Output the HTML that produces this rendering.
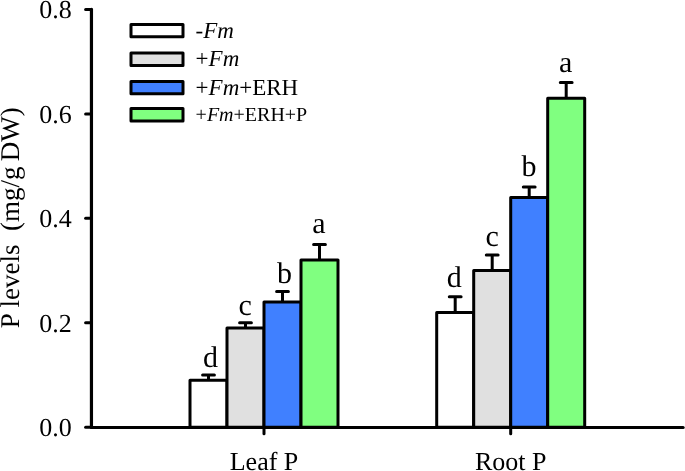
<!DOCTYPE html>
<html><head><meta charset="utf-8"><title>P levels</title>
<style>
html,body{margin:0;padding:0;background:#fff;}
body{width:685px;height:471px;overflow:hidden;}
svg{display:block;}
text{text-rendering:geometricPrecision;font-family:"Liberation Serif","Times New Roman",serif;fill:#000;}
.ax{font-size:26px;}
.lt{font-size:30px;}
.ay{font-size:27px;}
.lg{font-size:23px;}
.lg4{font-size:20px;}
.it{font-style:italic;}
</style></head><body>
<svg xmlns="http://www.w3.org/2000/svg" width="685" height="471" viewBox="0 0 685 471">
<rect width="685" height="471" fill="#fff"/>

<path d="M208.5 380.3V375.1M202.6 375.1H214.4" stroke="#000" stroke-width="3.0" stroke-linecap="round" fill="none"/>
<rect x="190.0" y="380.3" width="37" height="47.0" fill="#ffffff" stroke="#000" stroke-width="3.0" stroke-linejoin="round"/>
<text class="lt" x="210.5" y="367.3" text-anchor="middle">d</text>
<path d="M245.5 328.0V322.8M239.6 322.8H251.4" stroke="#000" stroke-width="3.0" stroke-linecap="round" fill="none"/>
<rect x="227.0" y="328.0" width="37" height="99.3" fill="#e0e0e0" stroke="#000" stroke-width="3.0" stroke-linejoin="round"/>
<text class="lt" x="245.2" y="315.2" text-anchor="middle">c</text>
<path d="M282.5 301.9V291.5M276.6 291.5H288.4" stroke="#000" stroke-width="3.0" stroke-linecap="round" fill="none"/>
<rect x="264.0" y="301.9" width="37" height="125.4" fill="#4080ff" stroke="#000" stroke-width="3.0" stroke-linejoin="round"/>
<text class="lt" x="284.5" y="282.8" text-anchor="middle">b</text>
<path d="M319.5 260.1V244.5M313.6 244.5H325.4" stroke="#000" stroke-width="3.0" stroke-linecap="round" fill="none"/>
<rect x="301.0" y="260.1" width="37" height="167.2" fill="#80ff80" stroke="#000" stroke-width="3.0" stroke-linejoin="round"/>
<text class="lt" x="319.0" y="233.0" text-anchor="middle">a</text>
<path d="M264.0 427.3V433.8" stroke="#000" stroke-width="3.0" stroke-linecap="round"/>
<text class="ax" x="264.0" y="470" text-anchor="middle">Leaf P</text>
<path d="M455.2 312.4V296.7M449.3 296.7H461.1" stroke="#000" stroke-width="3.0" stroke-linecap="round" fill="none"/>
<rect x="436.7" y="312.4" width="37" height="114.9" fill="#ffffff" stroke="#000" stroke-width="3.0" stroke-linejoin="round"/>
<text class="lt" x="454.2" y="286.8" text-anchor="middle">d</text>
<path d="M492.2 270.6V254.9M486.3 254.9H498.1" stroke="#000" stroke-width="3.0" stroke-linecap="round" fill="none"/>
<rect x="473.7" y="270.6" width="37" height="156.7" fill="#e0e0e0" stroke="#000" stroke-width="3.0" stroke-linejoin="round"/>
<text class="lt" x="492.2" y="246.1" text-anchor="middle">c</text>
<path d="M529.2 197.4V187.0M523.3 187.0H535.1" stroke="#000" stroke-width="3.0" stroke-linecap="round" fill="none"/>
<rect x="510.7" y="197.4" width="37" height="229.9" fill="#4080ff" stroke="#000" stroke-width="3.0" stroke-linejoin="round"/>
<text class="lt" x="528.9" y="176.2" text-anchor="middle">b</text>
<path d="M566.2 98.2V82.5M560.3 82.5H572.1" stroke="#000" stroke-width="3.0" stroke-linecap="round" fill="none"/>
<rect x="547.7" y="98.2" width="37" height="329.1" fill="#80ff80" stroke="#000" stroke-width="3.0" stroke-linejoin="round"/>
<text class="lt" x="565.7" y="71.5" text-anchor="middle">a</text>
<path d="M510.7 427.3V433.8" stroke="#000" stroke-width="3.0" stroke-linecap="round"/>
<text class="ax" x="510.7" y="470" text-anchor="middle">Root P</text>
<path d="M91.45 9.4V427.3" stroke="#000" stroke-width="3.2" stroke-linecap="round" fill="none"/>
<path d="M91.4 427.45H683.2" stroke="#000" stroke-width="3.0" stroke-linecap="round" fill="none"/>
<path d="M85.6 427.3H91.4" stroke="#000" stroke-width="3.0" stroke-linecap="round"/>
<text class="ax" x="71.8" y="436.1" text-anchor="end">0.0</text>
<path d="M85.6 322.8H91.4" stroke="#000" stroke-width="3.0" stroke-linecap="round"/>
<text class="ax" x="71.8" y="331.6" text-anchor="end">0.2</text>
<path d="M85.6 218.3H91.4" stroke="#000" stroke-width="3.0" stroke-linecap="round"/>
<text class="ax" x="71.8" y="227.1" text-anchor="end">0.4</text>
<path d="M85.6 113.9H91.4" stroke="#000" stroke-width="3.0" stroke-linecap="round"/>
<text class="ax" x="71.8" y="122.7" text-anchor="end">0.6</text>
<path d="M85.6 9.4H91.4" stroke="#000" stroke-width="3.0" stroke-linecap="round"/>
<text class="ax" x="71.8" y="18.2" text-anchor="end">0.8</text>
<text class="ay" transform="translate(19.2 328.3) rotate(-90)" letter-spacing="0" xml:space="preserve">P levels  (mg/g <tspan dx="-1.5">DW)</tspan></text>
<rect x="131" y="24.4" width="52" height="12.3" fill="#ffffff" stroke="#000" stroke-width="3.0" stroke-linejoin="round"/>
<text class="lg" x="195.6" y="38.3"><tspan class="it">-Fm</tspan></text>
<rect x="131" y="53.1" width="52" height="12.3" fill="#e0e0e0" stroke="#000" stroke-width="3.0" stroke-linejoin="round"/>
<text class="lg" x="195.6" y="66.3">+<tspan class="it">Fm</tspan></text>
<rect x="131" y="81.5" width="52" height="12.3" fill="#4080ff" stroke="#000" stroke-width="3.0" stroke-linejoin="round"/>
<text class="lg" x="195.6" y="95.0">+<tspan class="it">Fm</tspan>+ERH</text>
<rect x="131" y="108.6" width="52" height="12.3" fill="#80ff80" stroke="#000" stroke-width="3.0" stroke-linejoin="round"/>
<text class="lg4" x="195.6" y="121.2">+<tspan class="it">Fm</tspan>+ERH+P</text>
</svg></body></html>
